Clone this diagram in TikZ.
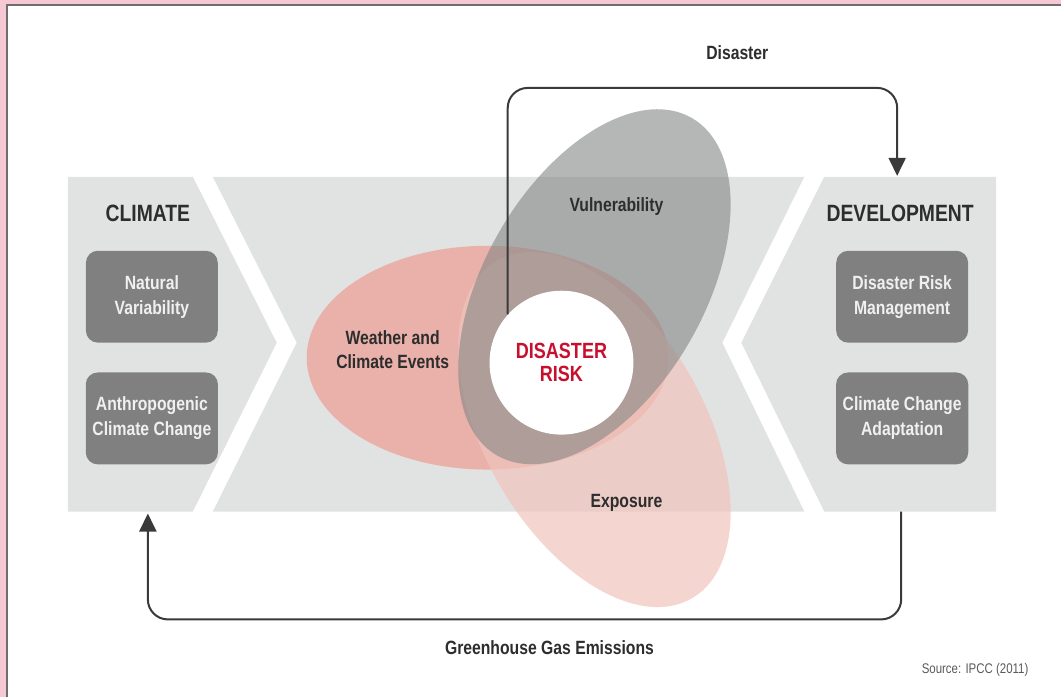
\documentclass[tikz,border=0pt]{standalone}
\usepackage{fontspec}
\setmainfont{Liberation Sans}[FakeStretch=0.82]
\usetikzlibrary{arrows.meta,shapes.geometric,positioning}
\definecolor{framepink}{RGB}{246,200,212}
\definecolor{framegray}{RGB}{110,110,110}
\definecolor{bandgray}{RGB}{225,226,226}
\definecolor{boxgray}{RGB}{128,128,128}
\definecolor{boxtext}{RGB}{240,240,240}
\definecolor{hazardred}{RGB}{234,172,163}
\definecolor{exposepink}{RGB}{240,196,188}
\definecolor{vulngray}{RGB}{133,135,135}
\definecolor{riskred}{RGB}{200,16,46}
\definecolor{inkgray}{RGB}{45,45,45}
\definecolor{linegray}{RGB}{58,58,58}
\definecolor{sourcegray}{RGB}{90,90,90}
\tikzset{
  panel/.style={fill=bandgray},
  factorbox/.style={fill=boxgray, rounded corners=6pt, minimum width=66pt,
                    minimum height=46pt, text=boxtext, align=center,
                    font=\bfseries\fontsize{9.6}{12.5}\selectfont},
  heading/.style={font=\bfseries\fontsize{11.8}{14}\selectfont, text=inkgray},
  lbl/.style={font=\bfseries\fontsize{9.6}{12}\selectfont, text=inkgray, align=center},
  blob/.style={ellipse, draw=none, inner sep=0pt},
  flow/.style={draw=linegray, line width=1pt, rounded corners=10pt,
               -{Triangle[length=9pt,width=8.5pt]}},
}
\begin{document}
\begin{tikzpicture}[x=0.5pt,y=-0.5pt]
  % ---- frame ----
  \fill[framepink] (0,0) rectangle (1062,698);
  \fill[white] (7,5) rectangle (1062,698);
  \draw[framegray, line width=1pt] (7,698) -- (7,5) -- (1062,5);
  \useasboundingbox (0,0) rectangle (1062,698);
  % ---- chevron band ----
  \fill[panel] (68,177) -- (193,177) -- (277,343) -- (193,512) -- (68,512) -- cycle;
  \fill[panel] (213,177) -- (805,177) -- (723,343) -- (805,512) -- (213,512) -- (297,343) -- cycle;
  \fill[panel] (825,177) -- (997,177) -- (997,512) -- (825,512) -- (742,343) -- cycle;
  % ---- climate / development ----
  \node[heading] (climate) at (148,214) {CLIMATE};
  \node[heading] (development) at (901,214) {DEVELOPMENT};
  \node[factorbox] (natural) at (152,297) {Natural\\Variability};
  \node[factorbox, below=14.5pt of natural] (anthro) {Anthropogenic\\Climate Change};
  \node[factorbox] (drm) at (903,297) {Disaster Risk\\Management};
  \node[factorbox, below=14.5pt of drm] (cca) {Climate Change\\Adaptation};
  % ---- overlapping sets ----
  \node[blob, fill=hazardred, fill opacity=0.9, minimum width=181pt, minimum height=112pt] (hazard) at (488,358) {};
  \node[blob, fill=exposepink, fill opacity=0.7, minimum width=195pt, minimum height=110pt, rotate=-60] (exposure) at (595,430) {};
  \node[blob, fill=vulngray, fill opacity=0.6, minimum width=195pt, minimum height=110pt, rotate=60] (vuln) at (595,287) {};
  \node[circle, fill=white, minimum size=72pt, inner sep=0pt, align=center, text=riskred,
        font=\bfseries\fontsize{11}{11.5}\selectfont] (risk) at (562,363) {DISASTER\\RISK};
  \node[lbl] (hazardlbl) at (393,350) {Weather and\\Climate Events};
  \node[lbl] (vulnlbl) at (617,207) {Vulnerability};
  \node[lbl] (explbl) at (627,503) {Exposure};
  % ---- feedback loops ----
  \coordinate (looptop) at (898,88);
  \coordinate (devtop) at (898,176);
  \draw[flow] (risk.138) |- (looptop) -- (devtop);
  \node[lbl] (disaster) at (738,53) {Disaster};
  \coordinate (devbot) at (902,512);
  \coordinate (loopbot) at (148,620);
  \coordinate (clibot) at (148,514);
  \draw[flow] (devbot) |- (loopbot) -- (clibot);
  \node[lbl] (ghg) at (550,648) {Greenhouse Gas Emissions};
  \node[font=\fontsize{7}{8}\selectfont, text=sourcegray] (source) at (976,671) {Source: IPCC (2011)};
\end{tikzpicture}
\end{document}
